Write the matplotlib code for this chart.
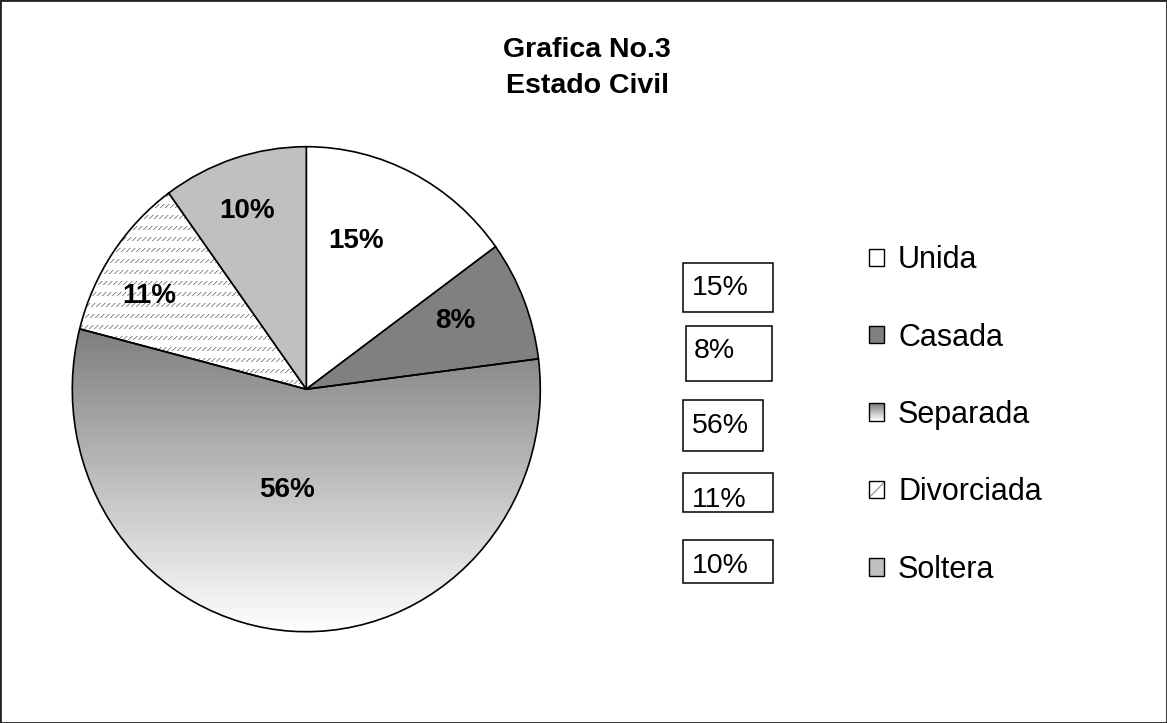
import numpy as np
import matplotlib
matplotlib.use("Agg")
import matplotlib.pyplot as plt
from matplotlib.patches import Rectangle, Patch
from matplotlib.legend_handler import HandlerBase
from matplotlib.colors import LinearSegmentedColormap, to_rgba

plt.rcParams['font.family'] = ['Liberation Sans', 'DejaVu Sans']
plt.rcParams['hatch.linewidth'] = 1.0

# ---- data ----
categories = ["Unida", "Casada", "Separada", "Divorciada", "Soltera"]
values = [15, 8, 56, 11, 10]
title_lines = ["Grafica No.3", "Estado Civil"]

# ---- styles ----
face_colors = ["#ffffff", "#808080", "none", "none", "#c0c0c0"]
kinds = ["solid", "solid", "gradient", "texture", "solid"]
grad_top, grad_bottom = "#7e7e7e", "#ffffff"
hatch_color = "#a0a0a0"

W, H = 1167, 723
fig = plt.figure(figsize=(W / 100, H / 100), dpi=100)

def fx(px):
    return px / W

def fy(py):
    return 1 - py / H

# pie axes (slightly elliptical, like the reference)
cx, cy, rx, ry = 306.3, 389.2, 234.0, 242.5
ax = fig.add_axes([fx(cx - rx), fy(cy + ry), 2 * rx / W, 2 * ry / H])

wedges, texts, autotexts = ax.pie(
    values, startangle=90, counterclock=False, radius=1.0,
    colors=["white"] * len(values),
    autopct=lambda p: f"{p:.0f}%",
    wedgeprops=dict(edgecolor="black", linewidth=1.2, zorder=3),
    textprops=dict(fontsize=20, fontweight="bold", color="black"),
)
for w, fc in zip(wedges, face_colors):
    w.set_facecolor(fc)
ax.set_aspect("auto")
ax.axis("off")
ax.set_xlim(-1, 1)
ax.set_ylim(-1, 1)


def texture(h, w):
    """Rows of short light-gray '/' dashes (Excel light diagonal pattern look)."""
    img = np.ones((h, w, 4))
    r = np.arange(h)[:, None]
    c = np.arange(w)[None, :]
    row_on = (r % 11) < 4
    main = row_on & (((c + r) % 5) == 0)
    soft = row_on & (((c + r) % 5) == 1)
    img[main] = to_rgba("#8e8e8e")
    img[soft] = to_rgba("#d2d2d2")
    return img


# gradient fill for Separada, texture for Divorciada
cmap = LinearSegmentedColormap.from_list("g", [grad_bottom, grad_top])
for w, k in zip(wedges, kinds):
    ext = w.get_path().get_extents()
    if k == "gradient":
        grad = np.linspace(0, 1, 256).reshape(-1, 1)
        im = ax.imshow(grad, extent=(ext.x0, ext.x1, ext.y0, ext.y1), origin="lower",
                       cmap=cmap, aspect="auto", zorder=1, interpolation="bilinear")
        im.set_clip_path(w)
    elif k == "texture":
        (px0, py0), (px1, py1) = ax.transData.transform([[ext.x0, ext.y0], [ext.x1, ext.y1]])
        px0, py0 = np.floor(px0), np.floor(py0)
        px1, py1 = np.ceil(px1), np.ceil(py1)
        (dx0, dy0), (dx1, dy1) = ax.transData.inverted().transform([[px0, py0], [px1, py1]])
        img = texture(int(py1 - py0), int(px1 - px0))
        im = ax.imshow(img, extent=(dx0, dx1, dy0, dy1), origin="upper",
                       aspect="auto", zorder=1, interpolation="nearest")
        im.set_clip_path(w)
ax.set_xlim(-1, 1)
ax.set_ylim(-1, 1)

# label baselines (axes data units)
label_pos = [(0.212, 0.582), (0.635, 0.252), (-0.082, -0.445), (-0.672, 0.355), (-0.253, 0.706)]
for t, pos in zip(autotexts, label_pos):
    t.set_position(pos)
    t.set_zorder(5)
    t.set_ha("center")
    t.set_va("baseline")

# title
fig.text(fx(587), fy(57), title_lines[0], ha="center", va="baseline", fontsize=20.5, fontweight="bold")
fig.text(fx(587), fy(93), title_lines[1], ha="center", va="baseline", fontsize=20.5, fontweight="bold")

# percentage boxes
boxes = [(683, 263, 773, 312), (686, 326, 772, 381), (683, 400, 763, 451),
         (683, 473, 773, 512), (683, 540, 773, 583)]
text_x = [692, 694, 692, 692, 692]
text_base = [295, 358, 433, 507, 573]
for v, (x0, y0, x1, y1), tx, ty in zip(values, boxes, text_x, text_base):
    fig.patches.append(Rectangle((fx(x0), fy(y1)), (x1 - x0) / W, (y1 - y0) / H,
                                 transform=fig.transFigure, facecolor="white",
                                 edgecolor="black", linewidth=1.1))
    fig.text(fx(tx), fy(ty), f"{v}%", ha="left", va="baseline", fontsize=20.5)

# legend with custom swatches
class Swatch(HandlerBase):
    def __init__(self, kind, color):
        super().__init__()
        self.kind = kind
        self.color = color

    def create_artists(self, legend, orig_handle, xdescent, ydescent, width, height, fontsize, trans):
        x0, y0 = -xdescent, -ydescent
        arts = []
        if self.kind == "gradient":
            n = 24
            c0 = np.array(matplotlib.colors.to_rgb(grad_top))
            c1 = np.array(matplotlib.colors.to_rgb(grad_bottom))
            for i in range(n):
                f = i / (n - 1)
                col = c0 + (c1 - c0) * f
                arts.append(Rectangle((x0, y0 + height * (1 - (i + 1) / n)), width, height / n,
                                      facecolor=col, edgecolor="none", linewidth=0))
        elif self.kind == "texture":
            arts.append(Rectangle((x0, y0), width, height, facecolor="white", edgecolor="none"))
            arts.append(Rectangle((x0, y0), width, height, facecolor="none",
                                  edgecolor=hatch_color, hatch="//", linewidth=0))
        else:
            arts.append(Rectangle((x0, y0), width, height, facecolor=self.color, edgecolor="none"))
        arts.append(Rectangle((x0, y0), width, height, facecolor="none", edgecolor="black", linewidth=1.0))
        for a in arts:
            a.set_transform(trans)
        return arts

proxies = [Patch(label=c) for c in categories]
hmap = {p: Swatch(k, fc) for p, k, fc in zip(proxies, kinds, face_colors)}
fig.legend(handles=proxies, labels=categories, handler_map=hmap, loc="center left",
           bbox_to_anchor=(fx(869), fy(415)), frameon=False, fontsize=22,
           handlelength=0.5, handleheight=0.5, handletextpad=0.45,
           labelspacing=1.55, borderpad=0, borderaxespad=0)

# outer border
fig.patches.append(Rectangle((0, 0), 1, 1, transform=fig.transFigure, fill=False,
                             edgecolor="#222222", linewidth=2.0))

fig.savefig("out.png", dpi=100)
